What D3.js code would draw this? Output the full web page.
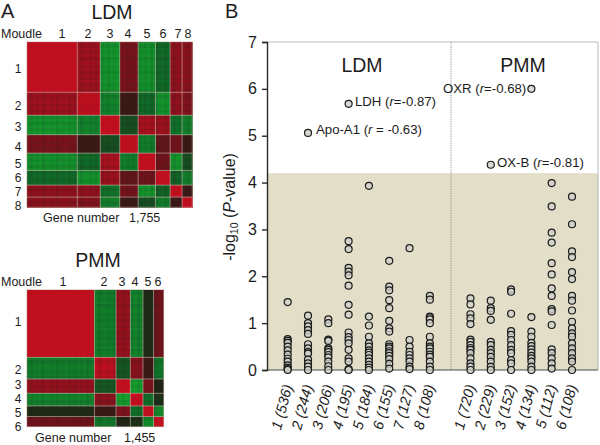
<!DOCTYPE html>
<html><head><meta charset="utf-8">
<script src="https://cdn.jsdelivr.net/npm/d3@7"></script>
<style>html,body{margin:0;padding:0;background:#fff}svg{display:block}text{font-family:"Liberation Sans",Arial,sans-serif;fill:#1c1c1c}</style>
</head><body><svg id="c" width="600" height="445"></svg>
<script>
// ---- Panel A data ----
const ldmSizes=[536,244,206,195,184,155,127,108];
const pmmSizes=[720,229,152,134,112,108];
const ldmCorr=[
[1,.72,-.8,.48,-.78,-.46,.62,.58],
[.72,.95,-.66,.14,-.46,-.78,.62,.52],
[-.8,-.66,1,-.3,.78,.68,-.52,-.62],
[.48,.14,-.3,.97,-.62,.35,.45,.14],
[-.78,-.46,.78,-.62,1,.42,-.8,-.3],
[-.46,-.78,.68,.35,.42,1,-.42,-.6],
[.62,.62,-.52,.45,-.8,-.42,1,.14],
[.58,.52,-.62,.14,-.3,-.6,.14,1]];
const pmmCorr=[
[1,-.62,.66,-.66,-.08,.42],
[-.62,.92,-.35,.58,.14,-.55],
[.66,-.35,1,-.88,.5,-.06],
[-.66,.58,-.88,1,-.5,-.12],
[-.08,.14,.5,-.5,1,-.72],
[.42,-.55,-.06,-.12,-.72,1]];
const stripes=[0,-.07,.03,-.03,.05,-.09,.02,.04,-.05,.02,-.08,.03,-.02,.05,-.06];
// ---- Panel B data ----
const ldmCats=["1 (536)","2 (244)","3 (206)","4 (195)","5 (184)","6 (155)","7 (127)","8 (108)"];
const pmmCats=["1 (720)","2 (229)","3 (152)","4 (134)","5 (112)","6 (108)"];
const ldmVals=[
[1.45,.66,.62,.58,.5,.42,.33,.24,.18,.1,.05,.02,0],
[5.06,1.16,1.0,.93,.85,.77,.55,.46,.38,.35,.22,.14,.07,0],
[1.08,1.0,.65,.62,.46,.43,.38,.32,.27,.18,.08,0],
[5.68,2.75,2.58,2.18,2.1,2.02,1.8,1.39,1.18,.8,.7,.64,.57,.43,.25,.18,.02,0],
[3.93,1.14,.95,.71,.57,.5,.42,.37,.32,.25,.18,.11,.05,0],
[2.33,1.78,1.7,1.49,1.32,1.05,.89,.82,.55,.5,.46,.4,.36,.3,.23,.13,.03],
[2.6,.64,.5,.39,.32,.25,.18,.07,.02],
[1.58,1.5,1.14,1.12,1.08,1.0,.71,.57,.5,.46,.39,.33,.28,.18,.07,0]];
const pmmVals=[
[1.53,1.4,1.19,1.1,.98,.65,.6,.53,.47,.43,.36,.25,.14,.07,0],
[4.38,1.48,1.32,1.26,1.07,.6,.53,.43,.36,.28,.18,.07,0],
[1.72,1.67,1.2,.83,.75,.64,.53,.43,.36,.21,.14,0],
[6.0,1.13,.82,.71,.58,.51,.44,.37,.3,.25,.18,.07,0],
[3.99,3.49,2.93,2.72,2.28,2.04,1.74,1.58,1.3,1.25,.96,.44,.36,.25,.14,.03],
[3.7,3.11,2.53,2.41,2.09,1.94,1.58,1.48,1.27,1.03,.89,.78,.71,.57,.46,.36,.25,.18,0]];
const notes=[
 {t:"LDH (",r:"r",e:"=-0.87)",x:355,y:106},
 {t:"Apo-A1 (",r:"r",e:" = -0.63)",x:316,y:134},
 {t:"OXR (",r:"r",e:"=-0.68)",x:443,y:93},
 {t:"OX-B (",r:"r",e:"=-0.81)",x:497,y:167}];
const yTicks=[0,1,2,3,4,5,6,7];
const shadeTop=4.2;

const svg=d3.select("#c");
const txt=(s,x,y,size,anchor)=>svg.append("text").attr("x",x).attr("y",y).attr("font-size",size).attr("text-anchor",anchor||"start").text(s);

// ---- heat maps ----
const color=d3.scaleLinear().domain([-1,-.5,0,.5,1]).range(["#17a42c","#0f6b28","#221c13","#78121c","#c00f1e"]);
function heat(sizes,corr,x0,x1,y0,y1){
  const total=d3.sum(sizes), cum=[0]; sizes.forEach(v=>cum.push(cum[cum.length-1]+v));
  const sx=d3.scaleLinear().domain([0,total]).range([x0,x1]);
  const sy=d3.scaleLinear().domain([0,total]).range([y0,y1]);
  const g=svg.append("g").attr("shape-rendering","crispEdges");
  const step=total/((x1-x0)/3);
  sizes.forEach((si,i)=>sizes.forEach((sj,j)=>{
    const nI=Math.max(1,Math.round(si/step)), nJ=Math.max(1,Math.round(sj/step));
    for(let a=0;a<nI;a++)for(let b=0;b<nJ;b++){
      const v=corr[i][j], k=Math.abs(v)>=.95?.25:1;
      const s=stripes[(a+i*4)%stripes.length]+stripes[(b+j*4)%stripes.length];
      const val=Math.max(-1,Math.min(1,v*(1+s*k)));
      g.append("rect")
       .attr("x",sx(cum[j]+b*sj/nJ)).attr("y",sy(cum[i]+a*si/nI))
       .attr("width",sx(sj/nJ)-sx(0)+.6).attr("height",sy(si/nI)-sy(0)+.6)
       .attr("fill",color(val));
    }
  }));
  const l=svg.append("g").attr("stroke","#cbb9ae").attr("stroke-width",.6).attr("fill","none");
  cum.forEach(c=>{
    l.append("line").attr("x1",sx(c)).attr("x2",sx(c)).attr("y1",y0).attr("y2",y1);
    l.append("line").attr("y1",sy(c)).attr("y2",sy(c)).attr("x1",x0).attr("x2",x1);
  });
}
heat(ldmSizes,ldmCorr,26.7,192.3,41.7,207.3);
heat(pmmSizes,pmmCorr,26.7,163.7,289.5,426.7);

txt("A",1,18.2,20); txt("B",225,18.2,20);
txt("LDM",112,18.5,19.5,"middle"); txt("PMM",98,267,19.5,"middle");
txt("Moudle",1,38,12.5); txt("Moudle",1,286,12.5);
[62,88,110,128,147,163,178,188].forEach((x,i)=>txt(i+1,x,38,12.5,"middle"));
[63,104,122,135,148,158].forEach((x,i)=>txt(i+1,x,286,12.5,"middle"));
[68,105,126,146,163,177.5,191.5,205.5].forEach((y,i)=>txt(i+1,18,y+4.5,12,"middle"));
[321,369,384,398,412,426].forEach((y,i)=>txt(i+1,18,y+4.5,12,"middle"));
txt("Gene number",43,222,12.5); txt("1,755",129,222,12.5);
txt("Gene number",35,442,12.5); txt("1,455",124,442,12.5);

// ---- Panel B ----
const y=d3.scaleLinear().domain([0,7]).range([370,42]);
const x=d3.scaleLinear().domain([0,14]).range([287.7,572]);
const left=267, right=598, mid=451;
svg.append("rect").attr("x",left).attr("width",right-left).attr("y",y(shadeTop)).attr("height",y(0)-y(shadeTop)).attr("fill","#e2dec8");
svg.append("path").attr("d",`M${left},${y(7)}H${right}V${y(0)}`).attr("fill","none").attr("stroke","#a9a9a9").attr("stroke-width",.8);
svg.append("line").attr("x1",mid).attr("x2",mid).attr("y1",y(7)).attr("y2",y(0)).attr("stroke","#8f8f8f").attr("stroke-width",1).attr("stroke-dasharray","1.2 1.2");
svg.append("line").attr("x1",left).attr("x2",right).attr("y1",y(0)).attr("y2",y(0)).attr("stroke","#4a4a4a").attr("stroke-width",1);

const ax=svg.append("g").attr("transform",`translate(${left},0)`).call(d3.axisLeft(y).tickValues(yTicks).tickFormat(d3.format("d")).tickSize(5).tickPadding(5));
ax.selectAll("path,line").attr("stroke","#2a2a2a").attr("stroke-width",1.4);
ax.selectAll("text").attr("font-size",16).attr("fill","#1c1c1c").style("font-family",'"Liberation Sans",Arial,sans-serif');

const ylab=svg.append("text").attr("transform","translate(235,207) rotate(-90)").attr("text-anchor","middle").attr("font-size",16);
ylab.append("tspan").text("-log");
ylab.append("tspan").attr("font-size",10.5).attr("dy",3).text("10");
ylab.append("tspan").attr("dy",-3).text(" (");
ylab.append("tspan").attr("font-style","italic").text("P");
ylab.append("tspan").text("-value)");

txt("LDM",362,72,19.5,"middle"); txt("PMM",523,72,19.5,"middle");
notes.forEach(n=>{
  const t=svg.append("text").attr("x",n.x).attr("y",n.y).attr("font-size",13.2);
  t.append("tspan").text(n.t);
  t.append("tspan").attr("font-style","italic").text(n.r);
  t.append("tspan").text(n.e);
});

const groups=ldmVals.concat([[]],pmmVals);
const pts=svg.append("g");
groups.forEach((vals,i)=>vals.forEach(v=>{
  pts.append("circle").attr("cx",x(i)).attr("cy",y(v)).attr("r",3.5)
    .attr("fill","#cfcfc9").attr("fill-opacity",.8).attr("stroke","#1c1c1c").attr("stroke-width",1.2);
}));

const labels=ldmCats.concat([""],pmmCats);
labels.forEach((s,i)=>{
  if(!s)return;
  svg.append("text").attr("transform",`translate(${x(i)+5},386) rotate(-75)`)
    .attr("text-anchor","end").attr("font-size",14.5).attr("font-style","italic").text(s);
});
</script></body></html>
